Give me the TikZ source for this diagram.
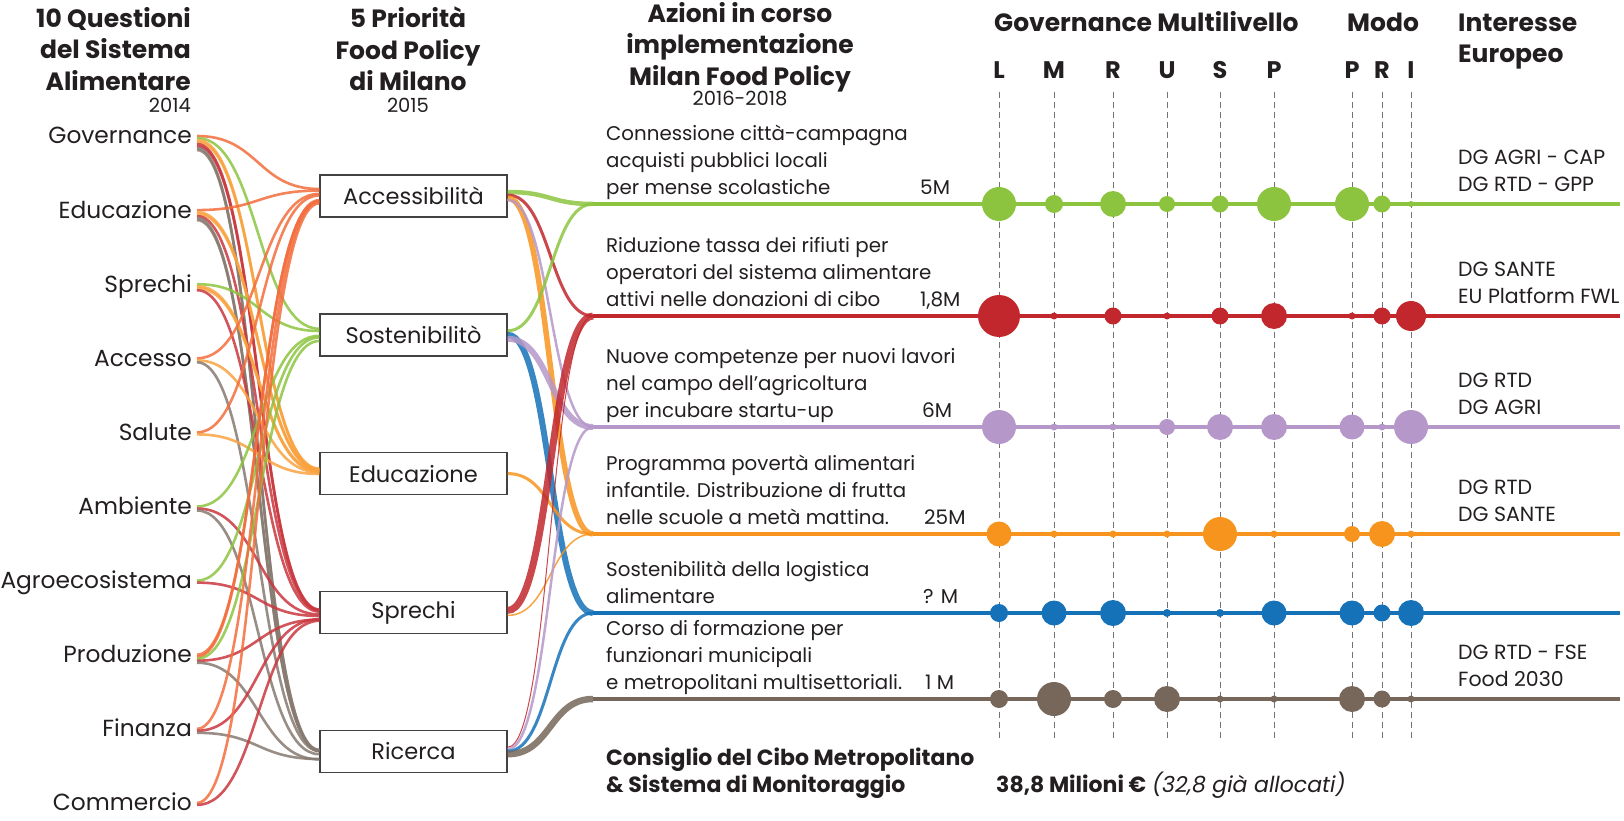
\documentclass[tikz,border=0pt]{standalone}
\usepackage{fontspec}
\setmainfont{Poppins}
\usetikzlibrary{calc,positioning}

\definecolor{ink}{HTML}{231F20}
\definecolor{lineg}{HTML}{8CC43F}
\definecolor{liner}{HTML}{C1272D}
\definecolor{linev}{HTML}{B598C9}
\definecolor{lineo}{HTML}{F7941E}
\definecolor{lineb}{HTML}{1572B9}
\definecolor{linem}{HTML}{76675A}
\definecolor{qacc}{HTML}{F26D3D}
\definecolor{qsos}{HTML}{8CC43F}
\definecolor{qedu}{HTML}{F9A23F}
\definecolor{qspr}{HTML}{C9373E}
\definecolor{qric}{HTML}{877A70}

\begin{document}
\begin{tikzpicture}[x=1pt,y=-1pt,
     question/.style = {anchor=east, inner sep=0pt, text height=17pt, text depth=5pt,
      font=\fontsize{23.3}{27}\selectfont, text=ink},
     prio/.style = {draw=ink!85, line width=1.4pt, fill=white, minimum width=187pt,
      minimum height=42pt, inner sep=0pt, font=\fontsize{22.5}{27}\selectfont, text=ink},
     head/.style = {inner sep=0pt, font=\fontsize{25}{31.5}\selectfont\bfseries, text=ink},
     year/.style = {inner sep=0pt, font=\fontsize{19.5}{22}\selectfont, text=ink},
     azione/.style = {anchor=south west, inner sep=0pt, align=left,
      font=\fontsize{19.8}{27}\selectfont, text=ink},
     budget/.style = {anchor=base west, inner sep=0pt, font=\fontsize{20}{24}\selectfont, text=ink},
     dg/.style = {anchor=south west, inner sep=0pt, align=left,
      font=\fontsize{20.5}{27}\selectfont, text=ink},
     level/.style = {anchor=base, inner sep=0pt, font=\fontsize{24}{28}\selectfont\bfseries, text=ink},
     guide/.style = {draw=black!55, line width=0.9pt, dash pattern=on 6pt off 4pt},
     qlink/.style = {line width=2.6pt, opacity=0.85},
     plink/.style = {opacity=0.85},
     azline/.style = {line width=4.5pt}
    ]
    \useasboundingbox (0,0) rectangle (1624,821);

    \node [head, anchor=north east, align=right] (hq) at (191,7) {10 Questioni\\del Sistema\\Alimentare};
    \node [year, anchor=base east] (yq) at (191,113) {2014};
    \node [head, anchor=north, align=center] (hp) at (408,7) {5 Priorità\\Food Policy\\di Milano};
    \node [year, anchor=base] (yp) at (408,113) {2015};
    \node [head, anchor=north, align=center] (ha) at (740,2) {Azioni in corso\\implementazione\\Milan Food Policy};
    \node [year, anchor=base] (ya) at (740,106) {2016-2018};
    \node [head, anchor=base west] (hg) at (994,31.5) {Governance Multilivello};
    \node [head, anchor=base west] (hm) at (1347,31.5) {Modo};
    \node [head, anchor=north west, align=left] (he) at (1458,13.5) {Interesse\\Europeo};

    \foreach \lab [count=\i from 0] in {Governance,Educazione,Sprechi,Accesso,Salute,
      Ambiente,Agroecosistema,Produzione,Finanza,Commercio}
      \node [question] (q\i) at (192,138+74.1*\i) {\lab};

    \node [prio] (acc) at (413.5,196) {Accessibilità};
    \node [prio, on grid, below=138.8pt of acc] (sos) {Sostenibilitò};
    \node [prio, on grid, below=138.8pt of sos] (edu) {Educazione};
    \node [prio, on grid, below=138.8pt of edu] (spr) {Sprechi};
    \node [prio, on grid, below=138.8pt of spr] (ric) {Ricerca};

    \foreach \q/\tl in {0/{acc,sos,edu,edu,spr,spr,ric,ric}, 1/{acc,edu,edu,spr,ric,ric},
      2/{sos,edu,edu,spr}, 3/{acc,edu,ric}, 4/{acc,edu}, 5/{sos,spr,ric}, 6/{sos,spr},
      7/{acc,acc,sos,spr,ric}, 8/{acc,spr,ric}, 9/{acc,spr}}
      \foreach \tgt [count=\k] in \tl
        \draw[qlink, draw=q\tgt] ($(q\q.east)+(5,-4+2*\k)$) .. controls +(62,0) and +(-62,0)
          .. ($(\tgt.west)+(0,1.6*\q-8+\k)$);

    \foreach \n/\y in {g/204, r/316, v/427, o/534, b/613, m/699} {
      \coordinate (j\n) at (593,\y);
      \coordinate (e\n) at (1620,\y);
    }

    \foreach \x/\lt [count=\i] in {999/L,1054/M,1113/R,1167/U,1220/S,1274/P,1352/P,1382/R,1411/I} {
      \node [level] (c\i) at (\x,78.5) {\lt};
      \draw[guide] ($(c\i.south)+(0,13)$) -- ++(0,648);
    }

    \foreach \p/\n/\w/\off in {acc/g/4.5/-4, acc/r/3/-1, acc/o/5.5/2, acc/v/2.5/4,
      sos/g/3/-4, sos/b/6/0, sos/v/6/4, edu/o/3/0, spr/r/7/-2, spr/o/1.5/3,
      ric/r/1/-4, ric/v/2.5/-2, ric/b/3/0, ric/m/6.5/3}
      \draw[plink, draw=line\n, line width=\w] ($(\p.east)+(0,\off)$) .. controls +(43,0) and +(-43,0) .. (j\n);

    \foreach \n in {g,r,v,o,b,m}
      \draw[azline, draw=line\n] (j\n) -- (e\n);

    \foreach \n/\rs in {g/{17,9,13,8,8.5,17,17,8.5,3}, r/{21,3.5,8.5,3.5,8.5,13,3.5,8.5,15},
      v/{17,3.5,3.5,8,13,13,12.5,3.5,17}, o/{12.5,3.5,3.5,3.5,17,3.5,8,13,3.5},
      b/{9,12.5,13,4,4,12.5,12.5,8.5,13}, m/{9,17,9,13,3.5,3.5,13,8.5,3.5}}
      \foreach \rad [count=\i] in \rs
        \fill[line\n] (c\i |- j\n) circle[radius=\rad];

    \node [azione] (tg) at (606,202.5) {Connessione città-campagna\\acquisti pubblici locali\\per mense scolastiche\strut};
    \node [azione] (tr) at (606,314.5) {Riduzione tassa dei rifiuti per\\operatori del sistema alimentare\\attivi nelle donazioni di cibo\strut};
    \node [azione] (tv) at (606,425.5) {Nuove competenze per nuovi lavori\\nel campo dell’agricoltura\\per incubare startu-up\strut};
    \node [azione] (to) at (606,532.5) {Programma povertà alimentari\\infantile. Distribuzione di frutta\\nelle scuole a metà mattina.\strut};
    \node [azione] (tb) at (606,611.5) {Sostenibilità della logistica\\alimentare\strut};
    \node [azione] (tm) at (606,697.5) {Corso di formazione per\\funzionari municipali\\e metropolitani multisettoriali.\strut};

    \node [budget] (bg) at (920,194.5) {5M};
    \node [budget] (br) at (920,306.5) {1,8M};
    \node [budget] (bv) at (922,417.5) {6M};
    \node [budget] (bo) at (924,524.5) {25M};
    \node [budget] (bb) at (923,603.5) {? M};
    \node [budget] (bm) at (925,689.5) {1 M};

    \node [dg] (dg-g) at (1458,200) {DG AGRI - CAP\\DG RTD - GPP\strut};
    \node [dg] (dg-r) at (1458,312) {DG SANTE\\EU Platform FWL\strut};
    \node [dg] (dg-v) at (1458,423) {DG RTD\\DG AGRI\strut};
    \node [dg] (dg-o) at (1458,530) {DG RTD\\DG SANTE\strut};
    \node [dg] (dg-m) at (1458,695) {DG RTD - FSE\\Food 2030\strut};

    \node [head, anchor=north west, align=left, font=\fontsize{22}{27}\selectfont\bfseries] (cons) at (606,748)
      {Consiglio del Cibo Metropolitano\\\& Sistema di Monitoraggio};
    \node [budget, font=\fontsize{22}{24}\selectfont] (tot) at (996,792)
      {\textbf{38,8 Milioni €} \textit{(32,8 già allocati)}};

\end{tikzpicture}
\end{document}
